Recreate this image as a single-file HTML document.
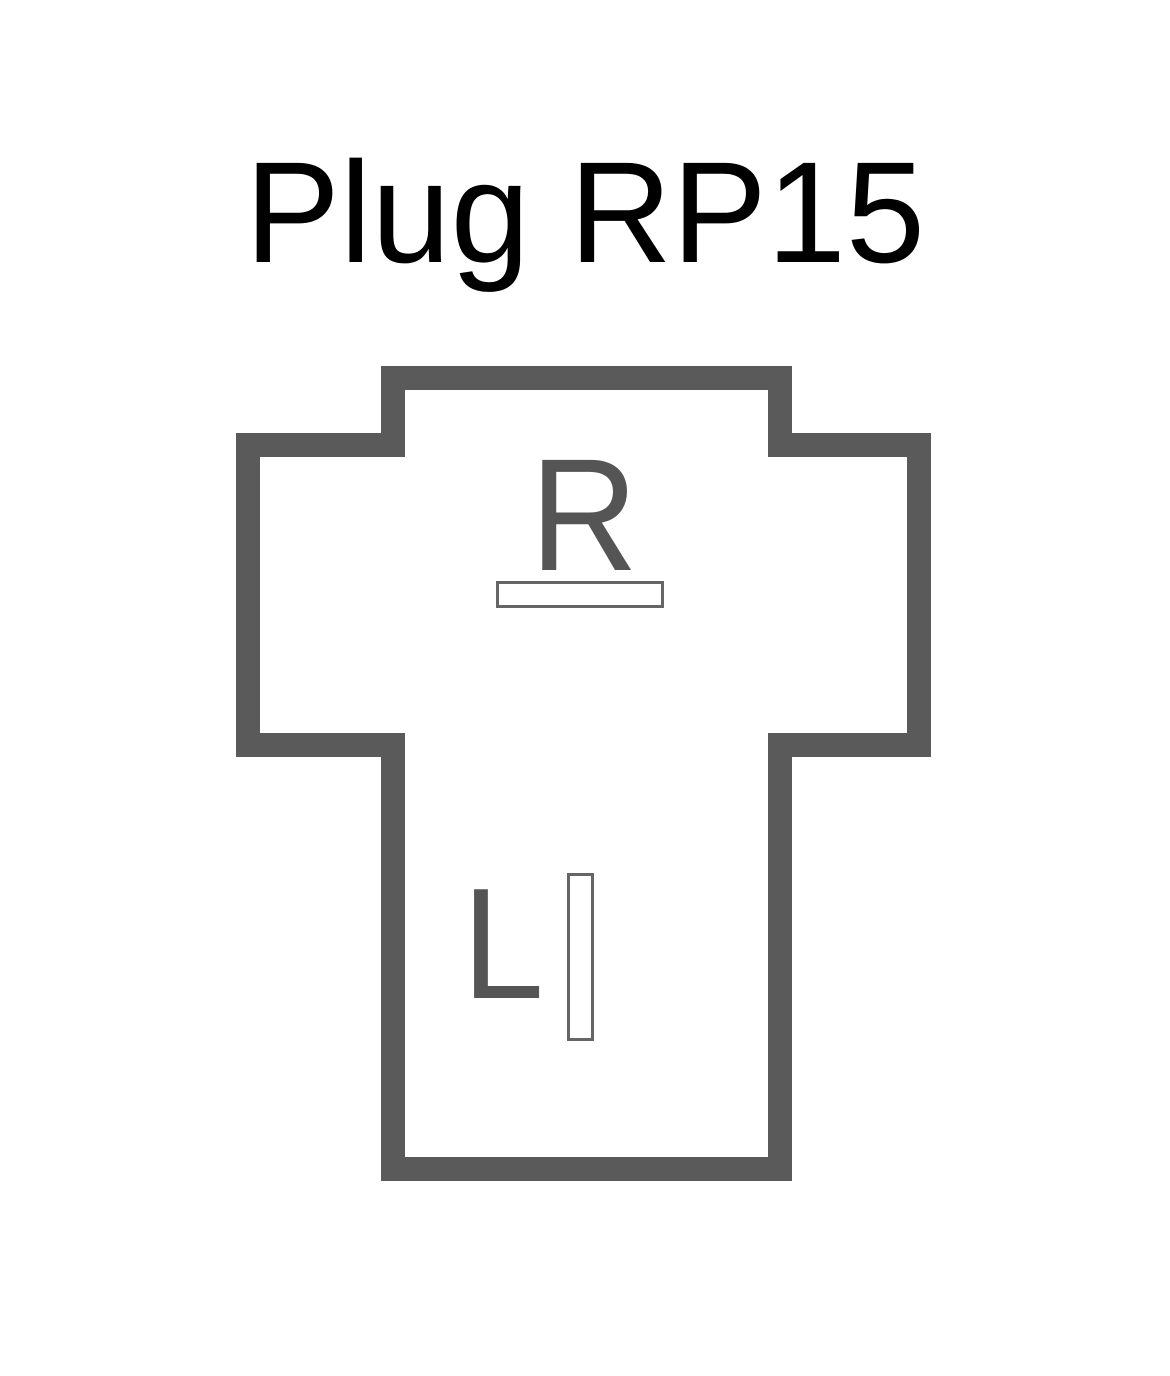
<!DOCTYPE html>
<html><head><style>html,body{margin:0;padding:0;background:#fff}svg{display:block}</style></head>
<body>
<svg width="1170" height="1376" viewBox="0 0 1170 1376" xmlns="http://www.w3.org/2000/svg">
<rect width="1170" height="1376" fill="#fff"/>
<text x="245" y="262" font-family="Liberation Sans, sans-serif" font-size="144" fill="#000" textLength="680" lengthAdjust="spacingAndGlyphs">Plug RP15</text>
<path d="M393,378 H780 V445 H919 V745 H780 V1169 H393 V745 H248 V445 H393 Z" fill="none" stroke="#5a5a5a" stroke-width="24" stroke-linejoin="miter"/>
<text x="530" y="570" font-family="Liberation Sans, sans-serif" font-size="160" fill="#555" textLength="108" lengthAdjust="spacingAndGlyphs">R</text>
<rect x="497.5" y="582.5" width="165" height="24" fill="none" stroke="#666" stroke-width="3"/>
<text x="462" y="998" font-family="Liberation Sans, sans-serif" font-size="158" fill="#555" textLength="82" lengthAdjust="spacingAndGlyphs">L</text>
<rect x="568.5" y="874.5" width="24" height="165" fill="none" stroke="#666" stroke-width="3"/>
</svg>
</body></html>
